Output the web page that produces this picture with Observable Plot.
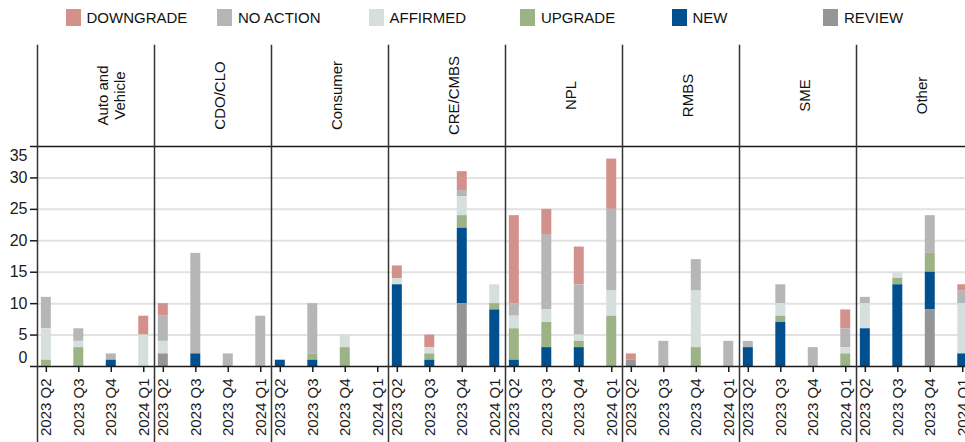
<!DOCTYPE html>
<html>
<head>
<meta charset="utf-8">
<script src="https://cdn.jsdelivr.net/npm/d3@7"></script>
<script src="https://cdn.jsdelivr.net/npm/@observablehq/plot@0.6"></script>
<style>
html, body { margin: 0; padding: 0; background: #fff; overflow: hidden; width: 965px; height: 442px; }
#legend { position: relative; height: 35px; font-family: "Liberation Sans", Arial, sans-serif; font-size: 15px; color: #111; }
#legend .item { position: absolute; top: 9px; display: flex; align-items: center; height: 17px; white-space: nowrap; }
#legend .sw { width: 15px; height: 17px; margin-right: 6px; }
#chart svg { max-width: none !important; display: block; }
</style>
</head>
<body>
<div id="legend"></div>
<div id="chart"></div>
<script>
// ---- Data ----
const categories = ["Auto and Vehicle", "CDO/CLO", "Consumer", "CRE/CMBS", "NPL", "RMBS", "SME", "Other"];
const categoryLabels = ["Auto and\nVehicle", "CDO/CLO", "Consumer", "CRE/CMBS", "NPL", "RMBS", "SME", "Other"];
const quarters = ["2023 Q2", "2023 Q3", "2023 Q4", "2024 Q1"];
const statuses = ["DOWNGRADE", "NO ACTION", "AFFIRMED", "UPGRADE", "NEW", "REVIEW"];
const colors = ["#d4918b", "#b6b6b6", "#d6dfdd", "#9cb485", "#00508f", "#959595"];
const stackOrder = ["REVIEW", "NEW", "UPGRADE", "AFFIRMED", "NO ACTION", "DOWNGRADE"];

// values: category-major, 4 quarters per category
const reviewVals    = [0,0,0,0, 2,0,0,0, 0,0,0,0, 0,0,10,0, 0,0,0,0, 1,0,0,0, 0,0,0,0, 0,0,9,0];
const newVals       = [0,0,1,0, 0,2,0,0, 1,1,0,0, 13,1,12,9, 1,3,3,0, 0,0,0,0, 3,7,0,0, 6,13,6,2];
const upgradeVals   = [1,3,0,0, 0,0,0,0, 0,1,3,0, 0,1,2,1, 5,4,1,8, 0,0,3,0, 0,1,0,2, 0,1,3,0];
const affirmedVals  = [5,1,0,5, 2,0,0,0, 0,0,2,0, 1,1,3,3, 2,2,1,4, 0,0,9,0, 0,2,0,1, 4,1,0,8];
const noActionVals  = [5,2,1,0, 4,16,2,8, 0,8,0,0, 0,0,1,0, 2,12,8,13, 0,4,5,4, 1,3,3,3, 1,0,6,2];
const downgradeVals = [0,0,0,3, 2,0,0,0, 0,0,0,0, 2,2,3,0, 14,4,6,8, 1,0,0,0, 0,0,0,3, 0,0,0,1];

const yGridTicks = [5, 10, 15, 20, 25, 30];
const yAllTicks = [0, 5, 10, 15, 20, 25, 30, 35];

// ---- Build table ----
const seriesByStatus = {
  "DOWNGRADE": downgradeVals, "NO ACTION": noActionVals, "AFFIRMED": affirmedVals,
  "UPGRADE": upgradeVals, "NEW": newVals, "REVIEW": reviewVals
};
const rows = [];
categories.forEach((c, ci) => {
  quarters.forEach((q, qi) => {
    statuses.forEach(s => {
      const v = seriesByStatus[s][ci * quarters.length + qi];
      if (v > 0) rows.push({category: c, quarter: q, status: s, value: v});
    });
  });
});
const labelOf = new Map(categories.map((c, i) => [c, categoryLabels[i]]));

// ---- Legend ----
const legend = document.getElementById("legend");
statuses.forEach((s, i) => {
  const item = document.createElement("div");
  item.className = "item";
  item.style.left = (65.5 + 151.5 * i) + "px";
  const sw = document.createElement("div");
  sw.className = "sw";
  sw.style.background = colors[i];
  const t = document.createElement("span");
  t.textContent = s;
  item.appendChild(sw);
  item.appendChild(t);
  legend.appendChild(item);
});

// ---- Chart ----
const chart = Plot.plot({
  width: 975,
  height: 407,
  marginTop: 111,
  marginBottom: 76,
  marginLeft: 36,
  marginRight: 1,
  style: {fontFamily: "'Liberation Sans', Arial, sans-serif", color: "#1a1a1a", background: "white"},
  fx: {domain: categories, padding: 0, axis: null},
  x: {domain: quarters, paddingInner: 0.693, paddingOuter: 0.148, align: 0.4, round: false},
  y: {domain: [0, 35]},
  color: {domain: statuses, range: colors},
  marks: [
    Plot.ruleY(yGridTicks, {stroke: "#e2e2e2", strokeWidth: 2}),
    Plot.barY(rows, Plot.stackY({fx: "category", x: "quarter", y: "value", fill: "status", order: stackOrder})),
    Plot.ruleY([0, 35], {stroke: "#1a1a1a", strokeWidth: 1.5}),
    Plot.frame({anchor: "left", insetTop: -101, insetBottom: -76, stroke: "#333", strokeWidth: 1.5}),
    Plot.axisY(yAllTicks, {tickSize: 7, tickFormat: () => "", label: null, strokeWidth: 1.5}),
    Plot.axisY(yGridTicks, {tickSize: 0, tickPadding: 10, fontSize: 16, label: null}),
    Plot.axisY([35], {tickSize: 0, tickPadding: 10, fontSize: 16, label: null, dy: 9}),
    Plot.axisY([0], {tickSize: 0, tickPadding: 10, fontSize: 16, label: null, dy: -9}),
    Plot.axisX({tickRotate: -90, tickSize: 6, tickPadding: 6, fontSize: 15, label: null, strokeWidth: 1.5}),
    Plot.text(categories, {fx: d => d, text: d => labelOf.get(d), frameAnchor: "top", dy: -51, rotate: -90, fontSize: 15, lineHeight: 1.12, fill: "#111"})
  ]
});
document.getElementById("chart").appendChild(chart);
</script>
</body>
</html>
